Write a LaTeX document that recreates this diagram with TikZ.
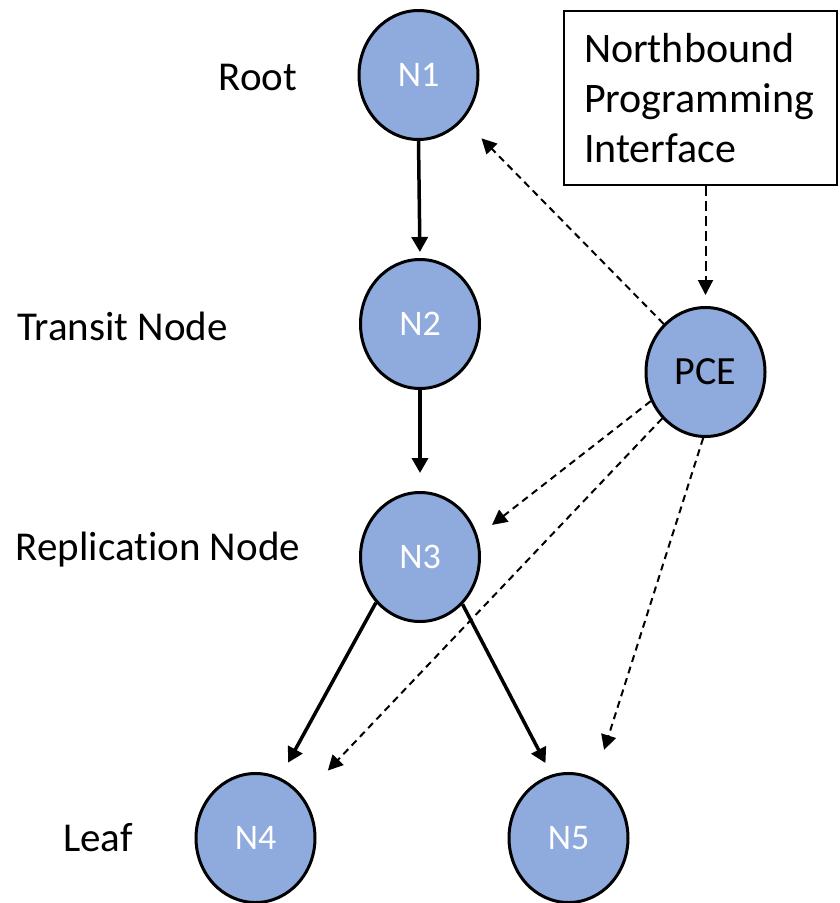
\documentclass[tikz,border=0pt]{standalone}
\usepackage{fontspec}
\setmainfont[Ligatures=NoCommon]{Carlito}
\usetikzlibrary{shapes.geometric,arrows.meta}
\definecolor{nodeblue}{HTML}{8FAADC}
\begin{document}
\begin{tikzpicture}[x=1pt,y=-1pt,
  treenode/.style={ellipse,draw=black,line width=3pt,fill=nodeblue,
    minimum width=119pt,minimum height=129pt,inner sep=0pt,text=white,
    font=\fontsize{36}{40}\selectfont},
  pcenode/.style={treenode,text=black,font=\fontsize{40}{44}\selectfont},
  levellabel/.style={anchor=base,inner sep=0pt,font=\fontsize{41}{50}\selectfont},
  treelink/.style={line width=3.5pt,-{Triangle[length=15pt,width=16pt]}},
  ctrllink/.style={line width=2pt,dash pattern=on 7pt off 5pt,
    -{Triangle[length=15pt,width=15pt]}},
]
\useasboundingbox (0,0) rectangle (839,903);

% multicast tree nodes and the controller
\node[treenode] (n1) at (418.5,75) {N1};
\node[treenode] (n2) at (420,324) {N2};
\node[treenode] (n3) at (420,557) {N3};
\node[treenode] (n4) at (255.5,838) {N4};
\node[treenode] (n5) at (568.5,838) {N5};
\node[pcenode] (pce) at (705.5,372) {PCE};

% northbound interface box
\node[draw,line width=2.8pt,minimum width=273pt,minimum height=174pt,
  text width=233pt,inner xsep=20pt,align=left,
  font=\fontsize{42}{50}\selectfont] (nbi) at (700.5,98)
  {Northbound\\Programming\\Interface};

% role labels
\node[levellabel] (lroot) at (258,90) {Root};
\node[levellabel] (ltransit) at (122.5,340) {Transit Node};
\node[levellabel] (lrep) at (158,560) {Replication Node};
\node[levellabel] (lleaf) at (98,851) {Leaf};

% tree links
\draw[treelink,shorten >=6pt] (n1.south) -- (n2.north);
\draw[treelink,shorten >=18pt] (n2.south) -- (n3.north);
\draw[treelink,shorten >=17pt] (n3.226) -- (n4.68);
\draw[treelink,shorten >=13pt] (n3.312) -- (n5.105);

% controller programming paths
\draw[ctrllink,dash pattern=on 10pt off 5pt,shorten >=11pt]
  (nbi.south -| pce.north) -- (pce.north);
\draw[ctrllink,shorten >=26pt] (pce.131) -- (n1.-45);
\draw[ctrllink,shorten >=18pt] (pce.208) -- (n3.20);
\draw[ctrllink,shorten >=36pt] (pce.227) -- (n4.41);
\draw[ctrllink,shorten >=30pt] (pce.268) -- (n5.66);
\end{tikzpicture}
\end{document}
